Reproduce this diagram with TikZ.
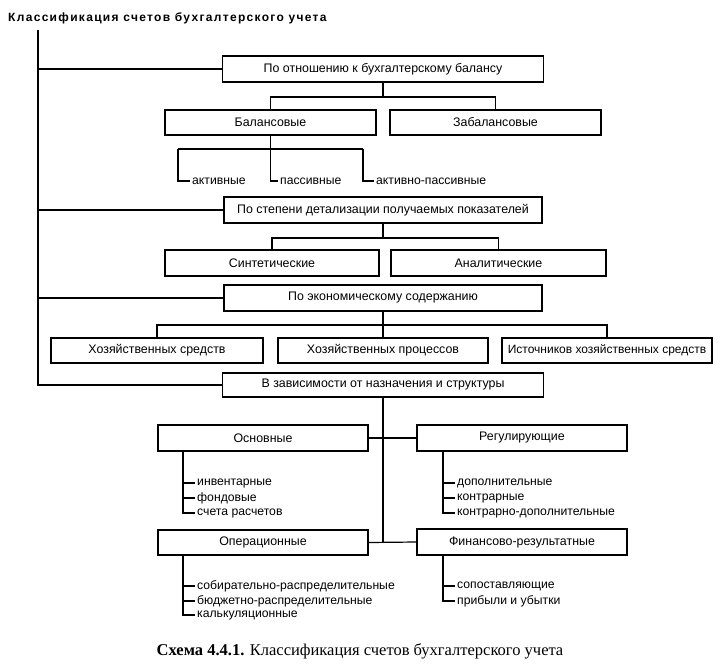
\documentclass[tikz,border=0pt]{standalone}
\usepackage{fontspec}
\setmainfont{Liberation Sans}
\newfontfamily\capfont{Liberation Serif}
\begin{document}
\begin{tikzpicture}[x=1pt,y=-1pt,
  every node/.style={font=\fontsize{12.4}{14}\selectfont},
  bx/.style={draw, line width=1.3pt, rectangle, inner sep=0pt, minimum height=25pt, fill=white},
  item/.style={anchor=west, inner sep=2pt, font=\fontsize{12.2}{14}\selectfont},
  ln/.style={line width=1.2pt}
]
\useasboundingbox (0,0) rectangle (721,667);

% title
\node[anchor=west, inner sep=0pt, font=\bfseries\fontsize{12}{14}\selectfont\addfontfeatures{LetterSpace=11}] (title) at (8,18) {Классификация счетов бухгалтерского учета};

% main boxes
\node[bx, minimum width=321pt, minimum height=26pt] (b1) at (383,69) {По отношению к бухгалтерскому балансу};
\node[bx, minimum width=211pt] (bal) at (270.5,122.5) {Балансовые};
\node[bx, minimum width=211pt] (zab) at (495.5,122.5) {Забалансовые};

\node[bx, minimum width=318pt, minimum height=26pt] (b2) at (383,210) {По степени детализации получаемых показателей};
\node[bx, minimum width=214pt, minimum height=26pt] (syn) at (272,263) {Синтетические};
\node[bx, minimum width=215pt, minimum height=26pt] (ana) at (498.5,263) {Аналитические};

\node[bx, minimum width=318pt, minimum height=26pt] (b3) at (383,298) {По экономическому содержанию};
\node[bx, minimum width=212pt] (hs) at (157,350.5) {Хозяйственных средств};
\node[bx, minimum width=210pt] (hp) at (383,350.5) {Хозяйственных процессов};
\node[bx, minimum width=210pt, font=\fontsize{12}{14}\selectfont] (ihs) at (607,350.5) {Источников хозяйственных средств};

\node[bx, minimum width=321pt, minimum height=24pt] (b4) at (383,385) {В зависимости от назначения и структуры};
\node[bx, minimum width=210pt, minimum height=26pt] (osn) at (263,438) {Основные};
\node[bx, minimum width=210pt, minimum height=26pt] (reg) at (522,438) {Регулирующие};
\node[bx, minimum width=210pt] (oper) at (263,542.5) {Операционные};
\node[bx, minimum width=210pt, minimum height=26pt] (fin) at (522,542) {Финансово-результатные};

% spine
\coordinate (sp) at (38,30);
\draw[ln] (sp) |- (b4.west);
\draw[ln] (sp |- b1.west) -- (b1.west);
\draw[ln] (sp |- b2.west) -- (b2.west);
\draw[ln] (sp |- b3.west) -- (b3.west);

% b1 children
\coordinate (j1) at (383,97);
\draw[ln] (b1.south) -- (j1);
\draw[ln] (bal.north) |- (j1) -| (zab.north);

% balance sub-items
\node[item] (a1) at (190,181) {активные};
\node[item] (a2) at (278,181) {пассивные};
\node[item] (a3) at (374,181) {активно-пассивные};
\coordinate (bjL) at (178,149);
\coordinate (bjR) at (363,149);
\draw[ln] (bal.south) -- (bal.south |- bjL);
\draw[ln] (bjL) -- (bjR);
\draw[ln] (bjL) |- (a1.west);
\draw[ln] (bal.south |- bjL) |- (a2.west);
\draw[ln] (bjR) |- (a3.west);

% b2 children
\coordinate (j2) at (383,238);
\draw[ln] (b2.south) -- (j2);
\draw[ln] (syn.north) |- (j2) -| (ana.north);

% b3 children
\coordinate (j3) at (383,325);
\draw[ln] (b3.south) -- (j3);
\draw[ln] (hs.north) |- (j3) -| (ihs.north);
\draw[ln] (j3) -- (hp.north);

% b4 children
\coordinate (j4) at (383,542.5);
\draw[ln] (b4.south) -- (j4);
\draw[ln] (osn.east) -- (reg.west);
\draw[ln] (oper.east) -- (fin.west);

% osn items
\node[item] (o1) at (195,483) {инвентарные};
\node[item] (o2) at (195,498) {фондовые};
\node[item] (o3) at (195,513) {счета расчетов};
\coordinate (osnL) at (183,451);
\draw[ln] (osnL) |- (o3.west);
\draw[ln] (osnL |- o1.west) -- (o1.west);
\draw[ln] (osnL |- o2.west) -- (o2.west);

% reg items
\node[item] (r1) at (455,483) {дополнительные};
\node[item] (r2) at (455,498) {контрарные};
\node[item] (r3) at (455,513) {контрарно-дополнительные};
\coordinate (regL) at (443,451);
\draw[ln] (regL) |- (r3.west);
\draw[ln] (regL |- r1.west) -- (r1.west);
\draw[ln] (regL |- r2.west) -- (r2.west);

% oper items
\node[item] (p1) at (195,586) {собирательно-распределительные};
\node[item] (p2) at (195,601) {бюджетно-распределительные};
\node[item] (p3) at (195,615) {калькуляционные};
\coordinate (operL) at (183,555);
\draw[ln] (operL) |- (p3.west);
\draw[ln] (operL |- p1.west) -- (p1.west);
\draw[ln] (operL |- p2.west) -- (p2.west);

% fin items
\node[item] (f1) at (455,586) {сопоставляющие};
\node[item] (f2) at (455,601) {прибыли и убытки};
\coordinate (finL) at (443,555);
\draw[ln] (finL) |- (f2.west);
\draw[ln] (finL |- f1.west) -- (f1.west);

% caption
\node[inner sep=0pt, font=\capfont\fontsize{16.5}{19}\selectfont] (cap) at (360,651) {\textbf{Схема 4.4.1.} Классификация счетов бухгалтерского учета};
\end{tikzpicture}
\end{document}
